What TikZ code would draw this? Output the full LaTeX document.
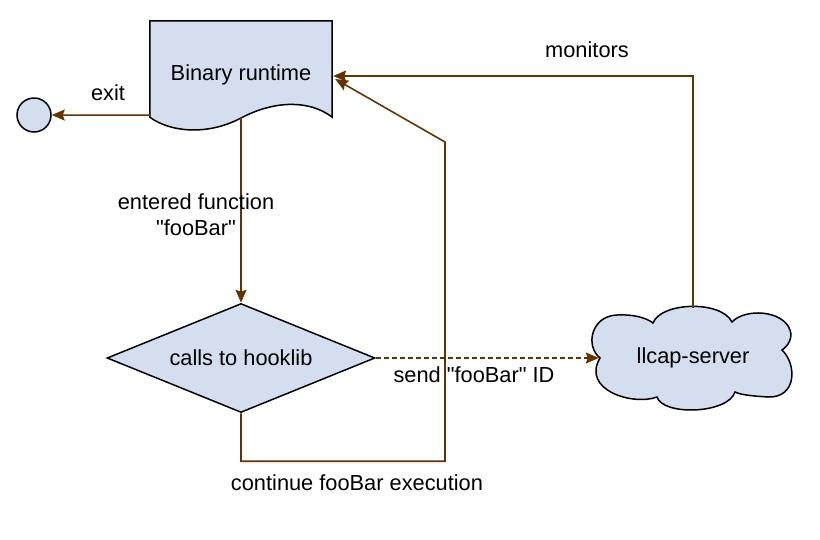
\documentclass[tikz,border=0pt]{standalone}
\usepackage{fontspec}
\setmainfont{Liberation Sans}[Ligatures=TeXOff]
\usetikzlibrary{arrows.meta,shapes.geometric}
\definecolor{flowbrown}{HTML}{663300}
\definecolor{boxfill}{HTML}{D4DEEE}
\tikzset{
	flowline/.style={draw=flowbrown, line width=1.6pt, -{Stealth[length=13pt,width=11pt,inset=2pt]}},
	shapebox/.style={draw=black, line width=1.5pt, fill=boxfill},
	flowtext/.style={font=\fontsize{21.8}{26}\selectfont, align=center}
}

\begin{document}
\begin{tikzpicture}[x=1pt, y=-1pt, every node/.style={flowtext}]
		%%%%% START %%%%%
		\useasboundingbox (0, 0) rectangle (820, 539);
		
		% document shape
		\node[minimum width=182pt, minimum height=96pt, inner sep=0] (runtime) at (241, 69) {};
		\draw[shapebox] (runtime.north west) -- (runtime.north east) -- (runtime.south east)
			.. controls (310, 100) and (275, 100) .. (241, 118)
			.. controls (207, 136) and (170, 132) .. (runtime.south west) -- cycle;
		\node (runtimetext) at (241, 75) {Binary runtime};
		
		\node[circle, shapebox, minimum size=34pt, inner sep=0] (endstate) at (34, 115) {};
		
		\node[diamond, shapebox, aspect=2.46, minimum width=268pt, minimum height=109pt, inner sep=0] (hook) at (241, 358) {calls to hooklib};
		
		% cloud
		\node[minimum width=200pt, minimum height=100pt, inner sep=0] (server) at (693, 358) {};
		\begin{scope}[shift={(server.center)}]
			\draw[shapebox] (-93, 0)
				.. controls (-108, -12) and (-102, -42) .. (-76, -43)
				.. controls (-60, -44) and (-46, -40) .. (-40, -35)
				.. controls (-32, -56) and (28, -58) .. (39, -36)
				.. controls (52, -50) and (90, -48) .. (97, -28)
				.. controls (100, -20) and (95, -12) .. (89, -8)
				.. controls (104, 6) and (104, 40) .. (75, 39)
				.. controls (60, 38) and (48, 37) .. (42, 34)
				.. controls (35, 56) and (-30, 58) .. (-36, 39)
				.. controls (-60, 48) and (-112, 32) .. cycle;
		\end{scope}
		\node (servertext) at (server.center) {llcap-server};
		
		\coordinate (turn) at (445, 142);
		
		% connectors
		\draw[flowline] ([yshift=2pt]runtime.south west) -- (endstate);
		\draw[flowline] (runtime.south) -- (hook.north);
		\draw[flowline, dash pattern=on 5pt off 3pt] (hook.east) -- ([xshift=6pt]server.west);
		\draw[flowline] (hook.south) -- ++(0, 48) -| (turn) -- ([xshift=3pt, yshift=-10pt]runtime.east);
		\draw[flowline] (server.north) |- ([xshift=1pt, yshift=-7pt]runtime.east);
		
		% labels
		\node (exitlabel) at (108, 93) {exit};
		\node (enteredlabel) at (196, 215) {entered function\\"fooBar"};
		\node (sendlabel) at (474, 375) {send "fooBar" ID};
		\node (continuelabel) at (357, 483) {continue fooBar execution};
		\node (monitorslabel) at (587, 50) {monitors};
		%%%%% END %%%%%
\end{tikzpicture}
\end{document}
